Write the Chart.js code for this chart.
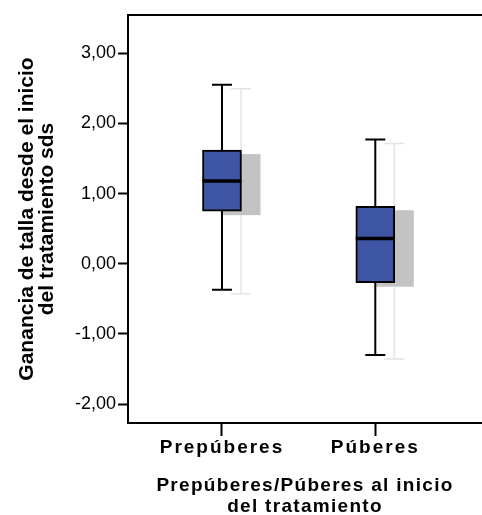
<!DOCTYPE html>
<html lang="es">
<head>
<meta charset="utf-8">
<title>Ganancia de talla</title>
<script src="https://cdn.jsdelivr.net/npm/chart.js@4/dist/chart.umd.min.js"></script>
<style>
  html, body { margin: 0; padding: 0; background: #fff; }
  canvas { display: block; }
</style>
</head>
<body>
<canvas id="boxChart" width="482" height="515"></canvas>
<script>
// Box plot values per group (sds)
const categories = ['Prepúberes', 'Púberes'];
const whiskerLow = [-0.37, -1.30];
const q1 = [0.75, -0.27];
const median = [1.18, 0.36];
const q3 = [1.62, 0.82];
const whiskerHigh = [2.55, 1.77];
const yTickValues = [-2, -1, 0, 1, 2, 3];

const fmt = v => v.toFixed(2).replace('.', ',');

// whiskers, medians and the grey drop shadow, placed with the chart scales
const boxPlot = {
  id: 'boxPlot',
  beforeDraw(chart) {
    // wide letter spacing for the x axis texts only
    const xs = chart.scales.x;
    if (!xs._spaced) {
      const wrap = (fn, sp) => function (...args) {
        const c = this.ctx;
        const prev = c.letterSpacing;
        c.letterSpacing = sp;
        fn.apply(this, args);
        c.letterSpacing = prev;
      };
      xs.drawLabels = wrap(xs.drawLabels, '2px');
      xs.drawTitle = wrap(xs.drawTitle, '1.3px');
      xs._spaced = true;
    }
  },
  beforeDatasetsDraw(chart) {
    const { ctx, scales: { x, y } } = chart;
    ctx.save();
    categories.forEach((c, i) => {
      const cx = x.getPixelForValue(i);
      const hi = y.getPixelForValue(whiskerHigh[i]);
      const lo = y.getPixelForValue(whiskerLow[i]);
      // shadow
      const sx = cx + 19, sy = 4;
      ctx.strokeStyle = '#e4e4e4';
      ctx.lineWidth = 1.5;
      ctx.beginPath();
      ctx.moveTo(sx, hi + sy);
      ctx.lineTo(sx, lo + sy);
      ctx.moveTo(sx - 10, hi + sy);
      ctx.lineTo(sx + 10, hi + sy);
      ctx.moveTo(sx - 10, lo + sy);
      ctx.lineTo(sx + 10, lo + sy);
      ctx.stroke();
      const top = y.getPixelForValue(q3[i]) + sy;
      const bot = y.getPixelForValue(q1[i]) + sy;
      ctx.fillStyle = '#c3c3c3';
      ctx.fillRect(sx - 19.5, top, 39, bot - top);

      // whisker
      ctx.strokeStyle = '#000';
      ctx.lineWidth = 2;
      ctx.beginPath();
      ctx.moveTo(cx, hi);
      ctx.lineTo(cx, lo);
      ctx.moveTo(cx - 10, hi);
      ctx.lineTo(cx + 10, hi);
      ctx.moveTo(cx - 10, lo);
      ctx.lineTo(cx + 10, lo);
      ctx.stroke();
    });
    ctx.restore();
  },
  afterDatasetsDraw(chart) {
    const { ctx, scales: { x, y } } = chart;
    ctx.save();
    ctx.strokeStyle = '#000';
    ctx.lineWidth = 3.5;
    categories.forEach((c, i) => {
      const cx = x.getPixelForValue(i);
      const my = y.getPixelForValue(median[i]);
      ctx.beginPath();
      ctx.moveTo(cx - 19.5, my);
      ctx.lineTo(cx + 19.5, my);
      ctx.stroke();
    });
    ctx.restore();
  },
  afterDraw(chart) {
    const { ctx, chartArea } = chart;
    ctx.save();
    ctx.strokeStyle = '#000';
    ctx.lineWidth = 2;
    ctx.beginPath();
    ctx.moveTo(chartArea.left - 1, chartArea.top);
    ctx.lineTo(chartArea.right, chartArea.top);
    ctx.stroke();
    ctx.restore();
  }
};

new Chart(document.getElementById('boxChart'), {
  type: 'bar',
  data: {
    datasets: [{
      data: categories.map((c, i) => ({ x: i, y: [q1[i], q3[i]] })),
      backgroundColor: '#3e55a5',
      borderColor: '#000',
      borderWidth: 2,
      borderSkipped: false,
      barThickness: 39
    }]
  },
  options: {
    responsive: false,
    animation: false,
    devicePixelRatio: 1,
    layout: { padding: { top: 15, right: 0, left: 0, bottom: 0 } },
    plugins: {
      legend: { display: false },
      tooltip: { enabled: false }
    },
    scales: {
      x: {
        type: 'linear',
        min: -0.613,
        max: 1.696,
        offset: false,
        afterBuildTicks: s => { s.ticks = categories.map((c, i) => ({ value: i })); },
        afterFit: s => { s.height = 92; },
        ticks: {
          callback: v => categories[v],
          color: '#000',
          font: { family: 'Liberation Sans', size: 19, weight: 'bold' },
          padding: 0,
          maxRotation: 0
        },
        grid: { offset: false, drawOnChartArea: false, color: '#000', tickLength: 13, tickWidth: 2 },
        border: { color: '#000', width: 2 },
        title: {
          display: true,
          text: ['Prepúberes/Púberes al inicio', 'del tratamiento'],
          color: '#000',
          font: { family: 'Liberation Sans', size: 19, weight: 'bold', lineHeight: 1.1 },
          padding: { top: 0, bottom: -2 }
        }
      },
      y: {
        min: -2.27,
        max: 3.546,
        afterBuildTicks: s => { s.ticks = yTickValues.map(v => ({ value: v })); },
        afterFit: s => { s.width = 128; },
        ticks: {
          callback: v => fmt(v),
          color: '#000',
          font: { family: 'Liberation Sans', size: 18 },
          padding: 2
        },
        grid: { drawOnChartArea: false, color: '#000', tickLength: 10, tickWidth: 2 },
        border: { color: '#000', width: 2 },
        title: {
          display: true,
          text: ['Ganancia de talla desde el inicio', 'del tratamiento sds'],
          color: '#000',
          font: { family: 'Liberation Sans', size: 21, weight: 'bold', lineHeight: 0.95 },
          padding: { top: 17, bottom: 0 }
        }
      }
    }
  },
  plugins: [boxPlot]
});
</script>
</body>
</html>
